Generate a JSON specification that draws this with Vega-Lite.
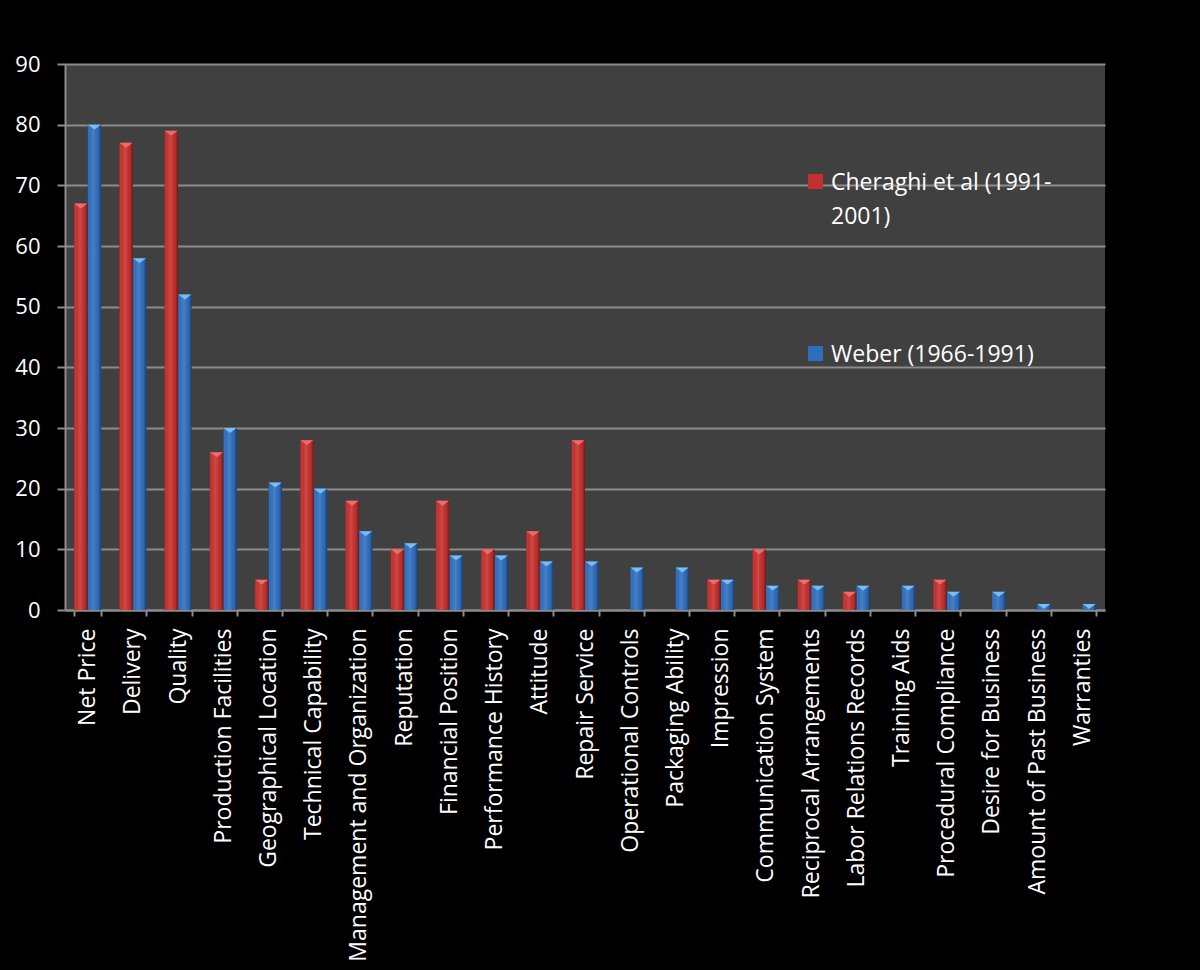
{
  "$schema": "https://vega.github.io/schema/vega-lite/v6.json",
  "width": 1040,
  "height": 546,
  "autosize": {"type": "none"},
  "padding": {"left": 65, "top": 64, "right": 95, "bottom": 360},
  "background": "#000000",
  "config": {
    "view": {"fill": "#404040", "stroke": null},
    "font": "Open Sans",
    "axis": {
      "labelColor": "#ffffff",
      "labelFont": "Open Sans",
      "domainColor": "#8c8c8c",
      "domainWidth": 2,
      "tickColor": "#8c8c8c",
      "tickWidth": 2,
      "gridColor": "#8c8c8c",
      "gridWidth": 2,
      "title": null
    },
    "legend": {
      "labelColor": "#ffffff",
      "labelFont": "Open Sans",
      "labelFontSize": 23,
      "labelLimit": 0
    }
  },
  "data": {
    "values": [
      {"factor": "Net Price", "series": "Cheraghi et al (1991-2001)", "value": 67},
      {"factor": "Net Price", "series": "Weber (1966-1991)", "value": 80},
      {"factor": "Delivery", "series": "Cheraghi et al (1991-2001)", "value": 77},
      {"factor": "Delivery", "series": "Weber (1966-1991)", "value": 58},
      {"factor": "Quality", "series": "Cheraghi et al (1991-2001)", "value": 79},
      {"factor": "Quality", "series": "Weber (1966-1991)", "value": 52},
      {"factor": "Production Facilities", "series": "Cheraghi et al (1991-2001)", "value": 26},
      {"factor": "Production Facilities", "series": "Weber (1966-1991)", "value": 30},
      {"factor": "Geographical Location", "series": "Cheraghi et al (1991-2001)", "value": 5},
      {"factor": "Geographical Location", "series": "Weber (1966-1991)", "value": 21},
      {"factor": "Technical Capability", "series": "Cheraghi et al (1991-2001)", "value": 28},
      {"factor": "Technical Capability", "series": "Weber (1966-1991)", "value": 20},
      {"factor": "Management and Organization", "series": "Cheraghi et al (1991-2001)", "value": 18},
      {"factor": "Management and Organization", "series": "Weber (1966-1991)", "value": 13},
      {"factor": "Reputation", "series": "Cheraghi et al (1991-2001)", "value": 10},
      {"factor": "Reputation", "series": "Weber (1966-1991)", "value": 11},
      {"factor": "Financial Position", "series": "Cheraghi et al (1991-2001)", "value": 18},
      {"factor": "Financial Position", "series": "Weber (1966-1991)", "value": 9},
      {"factor": "Performance History", "series": "Cheraghi et al (1991-2001)", "value": 10},
      {"factor": "Performance History", "series": "Weber (1966-1991)", "value": 9},
      {"factor": "Attitude", "series": "Cheraghi et al (1991-2001)", "value": 13},
      {"factor": "Attitude", "series": "Weber (1966-1991)", "value": 8},
      {"factor": "Repair Service", "series": "Cheraghi et al (1991-2001)", "value": 28},
      {"factor": "Repair Service", "series": "Weber (1966-1991)", "value": 8},
      {"factor": "Operational Controls", "series": "Weber (1966-1991)", "value": 7},
      {"factor": "Packaging Ability", "series": "Weber (1966-1991)", "value": 7},
      {"factor": "Impression", "series": "Cheraghi et al (1991-2001)", "value": 5},
      {"factor": "Impression", "series": "Weber (1966-1991)", "value": 5},
      {"factor": "Communication System", "series": "Cheraghi et al (1991-2001)", "value": 10},
      {"factor": "Communication System", "series": "Weber (1966-1991)", "value": 4},
      {"factor": "Reciprocal Arrangements", "series": "Cheraghi et al (1991-2001)", "value": 5},
      {"factor": "Reciprocal Arrangements", "series": "Weber (1966-1991)", "value": 4},
      {"factor": "Labor Relations Records", "series": "Cheraghi et al (1991-2001)", "value": 3},
      {"factor": "Labor Relations Records", "series": "Weber (1966-1991)", "value": 4},
      {"factor": "Training Aids", "series": "Weber (1966-1991)", "value": 4},
      {"factor": "Procedural Compliance", "series": "Cheraghi et al (1991-2001)", "value": 5},
      {"factor": "Procedural Compliance", "series": "Weber (1966-1991)", "value": 3},
      {"factor": "Desire for Business", "series": "Weber (1966-1991)", "value": 3},
      {"factor": "Amount of Past Business", "series": "Weber (1966-1991)", "value": 1},
      {"factor": "Warranties", "series": "Weber (1966-1991)", "value": 1}
    ]
  },
  "encoding": {
    "x": {
      "field": "factor",
      "type": "nominal",
      "sort": null,
      "scale": {"paddingInner": 0.4, "paddingOuter": 0.2},
      "axis": {
        "labelAngle": -90,
        "labelAlign": "right",
        "labelBaseline": "middle",
        "labelFontSize": 23,
        "labelPadding": 12,
        "tickBand": "extent",
        "tickSize": 6,
        "labelLimit": 0
      }
    },
    "xOffset": {
      "field": "series",
      "type": "nominal",
      "scale": {"domain": ["Cheraghi et al (1991-2001)", "Weber (1966-1991)"]}
    },
    "y": {
      "field": "value",
      "type": "quantitative",
      "scale": {"domain": [0, 90], "nice": false},
      "axis": {
        "values": [0, 10, 20, 30, 40, 50, 60, 70, 80, 90],
        "grid": true,
        "labelFontSize": 22,
        "labelPadding": 17,
        "tickSize": 8
      }
    }
  },
  "layer": [
    {
      "mark": {"type": "bar"},
      "encoding": {
        "color": {
          "field": "series",
          "type": "nominal",
          "scale": {"domain": ["Cheraghi et al (1991-2001)", "Weber (1966-1991)"], "range": ["#C4302D", "#2F6EBD"]},
          "legend": {
            "title": null,
            "orient": "none",
            "direction": "vertical",
            "legendX": 739,
            "legendY": 106,
            "symbolType": "square",
            "symbolSize": 225,
            "symbolStrokeWidth": 0,
            "rowPadding": 113,
            "labelOffset": 4,
            "labelBaseline": "top",
            "labelExpr": "datum.label == 'Cheraghi et al (1991-2001)' ? ['Cheraghi et al (1991-', '2001)'] : datum.label",
            "encode": {"labels": {"update": {"dy": {"value": -10}, "lineHeight": {"value": 34}}}}
          }
        }
      }
    },
    {
      "mark": {
        "type": "bar",
        "fill": {
          "gradient": "linear",
          "x1": 0, "x2": 1, "y1": 0, "y2": 0,
          "stops": [
            {"offset": 0, "color": "rgba(0,0,0,0.25)"},
            {"offset": 0.15, "color": "rgba(255,255,255,0.0)"},
            {"offset": 0.45, "color": "rgba(255,255,255,0.12)"},
            {"offset": 0.8, "color": "rgba(0,0,0,0.05)"},
            {"offset": 1, "color": "rgba(0,0,0,0.45)"}
          ]
        }
      }
    },
    {
      "mark": {"type": "point", "shape": "M-1,0L1,0L0,0.75Z", "size": 170, "filled": true, "opacity": 1, "strokeWidth": 0},
      "encoding": {
        "fill": {
          "field": "series",
          "type": "nominal",
          "scale": {"domain": ["Cheraghi et al (1991-2001)", "Weber (1966-1991)"], "range": ["#EC6E6C", "#78BDF2"]},
          "legend": null
        }
      }
    }
  ]
}
